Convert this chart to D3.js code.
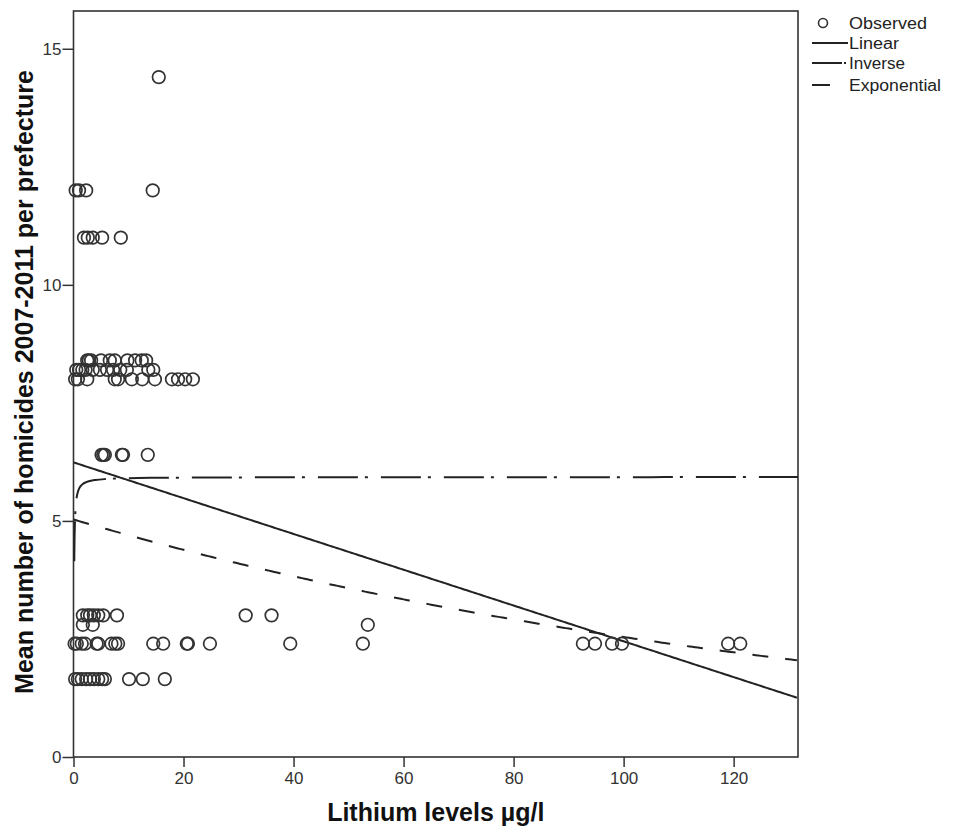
<!DOCTYPE html>
<html>
<head>
<meta charset="utf-8">
<script src="https://cdn.jsdelivr.net/npm/d3@7"></script>
<style>
  body { margin: 0; background: #fff; }
  text { font-family: "Liberation Sans", Arial, sans-serif; }
  .tick text { font-size: 17px; fill: #333; }
  .tick line, .domain { stroke: #333; stroke-width: 1.5; }
</style>
</head>
<body>
<script>
// observed points, grouped by their homicide level (y)
var obsLevels = [14.4, 12, 12, 12, 12, 11, 11, 11, 11, 11];
var obsLithium = [15.5, 0.4, 1.0, 2.3, 14.4, 1.9, 2.6, 3.5, 5.2, 8.6];

var lvl84 = [2.5, 2.8, 3.2, 5.0, 6.6, 7.5, 9.8, 11.2, 12.4, 13.2];
var lvl82 = [0.5, 1.0, 1.6, 2.2, 3.5, 4.8, 6.1, 7.2, 8.5, 9.7, 13.6, 14.5];
var lvl80 = [0.3, 0.8, 2.5, 7.5, 8.1, 10.6, 12.5, 14.8, 17.9, 19.0, 20.3, 21.7];
var lvl64 = [5.1, 5.4, 5.7, 8.8, 9.0, 13.5];
var lvl30 = [1.7, 2.5, 3.0, 3.7, 4.5, 5.4, 7.9, 31.3, 36.0];
var lvl28 = [1.7, 3.5, 53.5];
var lvl24 = [0.2, 0.6, 1.5, 2.1, 4.2, 4.5, 6.9, 7.6, 8.1, 14.5, 16.3, 20.6, 20.8, 24.8, 39.4, 52.6, 92.6, 94.8, 97.9, 99.7, 119.0, 121.2];
var lvl16 = [0.3, 0.8, 1.5, 2.3, 3.0, 3.7, 4.5, 5.2, 5.7, 10.1, 12.6, 16.6];

// fitted curve coefficients
var linearFit = [6.24, -0.0379];     // b0 + b1*x
var inverseFit = [5.93, -0.25];      // b0 + b1/x
var expFit = [5.03, -0.00683];       // b0 * exp(b1*x)

var xTicks = [0, 20, 40, 60, 80, 100, 120];
var yTicks = [0, 5, 10, 15];
var legendLabels = ["Observed", "Linear", "Inverse", "Exponential"];

var points = [];
obsLevels.forEach(function (v, i) { points.push({ x: obsLithium[i], y: v }); });
[[8.4, lvl84], [8.2, lvl82], [8.0, lvl80], [6.4, lvl64], [3.0, lvl30],
 [2.8, lvl28], [2.4, lvl24], [1.65, lvl16]].forEach(function (g) {
  g[1].forEach(function (x) { points.push({ x: x, y: g[0] }); });
});

var svgWidth = 954;
var svgHeight = 828;
var margin = { top: 11, right: 156, bottom: 71, left: 73.5 };
var width = svgWidth - margin.left - margin.right;
var height = svgHeight - margin.top - margin.bottom;

var svg = d3.select("body")
  .append("svg")
  .attr("width", svgWidth)
  .attr("height", svgHeight);

var chartGroup = svg.append("g")
  .attr("transform", `translate(${margin.left}, ${margin.top})`);

var xScale = d3.scaleLinear().domain([0, 131.7]).range([0, width]);
var yScale = d3.scaleLinear().domain([0, 15.8]).range([height, 0]);

// frame
chartGroup.append("rect")
  .attr("width", width)
  .attr("height", height)
  .attr("fill", "none")
  .attr("stroke", "#333")
  .attr("stroke-width", 1.6);

chartGroup.append("g")
  .attr("transform", `translate(0,${height})`)
  .call(d3.axisBottom(xScale).tickValues(xTicks).tickSize(10).tickSizeOuter(0).tickPadding(5))
  .call(function (g) { g.select(".domain").remove(); });

chartGroup.append("g")
  .call(d3.axisLeft(yScale).tickValues(yTicks).tickSize(11).tickSizeOuter(0).tickPadding(1))
  .call(function (g) { g.select(".domain").remove(); });

// fitted lines
var xs = d3.range(0, 131.71, 0.5);
var line = d3.line()
  .x(function (d) { return xScale(d[0]); })
  .y(function (d) { return yScale(d[1]); });

chartGroup.append("path")
  .datum(xs.map(function (x) { return [x, linearFit[0] + linearFit[1] * x]; }))
  .attr("d", line)
  .attr("fill", "none")
  .attr("stroke", "#222")
  .attr("stroke-width", 2);

var invXs = [0.14, 0.16, 0.18, 0.2, 0.23, 0.26, 0.3, 0.35, 0.4, 0.5, 0.6, 0.8, 1, 1.3, 1.7, 2.2, 3, 4, 6, 10].concat(d3.range(15, 131.71, 5)).concat([131.7]);
chartGroup.append("path")
  .datum(invXs.map(function (x) { return [x, inverseFit[0] + inverseFit[1] / x]; }))
  .attr("d", line.curve(d3.curveMonotoneX))
  .attr("fill", "none")
  .attr("stroke", "#222")
  .attr("stroke-width", 2)
  .attr("stroke-dasharray", "40,7,3,13");

chartGroup.append("path")
  .datum(xs.map(function (x) { return [x, expFit[0] * Math.exp(expFit[1] * x)]; }))
  .attr("d", line.curve(d3.curveLinear))
  .attr("fill", "none")
  .attr("stroke", "#222")
  .attr("stroke-width", 2)
  .attr("stroke-dasharray", "16,17");

// observed points
chartGroup.selectAll("circle.obs")
  .data(points)
  .enter()
  .append("circle")
  .attr("class", "obs")
  .attr("cx", function (d) { return xScale(d.x); })
  .attr("cy", function (d) { return yScale(d.y); })
  .attr("r", 6.3)
  .attr("fill", "none")
  .attr("stroke", "#333")
  .attr("stroke-width", 1.7);

// axis titles
svg.append("text")
  .attr("x", margin.left + width / 2)
  .attr("y", 821)
  .attr("text-anchor", "middle")
  .attr("font-size", "25px")
  .attr("font-weight", "bold")
  .attr("fill", "#111")
  .text("Lithium levels µg/l");

svg.append("text")
  .attr("transform", `translate(33,${margin.top + height / 2 - 2})rotate(-90)`)
  .attr("text-anchor", "middle")
  .attr("font-size", "25px")
  .attr("font-weight", "bold")
  .attr("fill", "#111")
  .text("Mean number of homicides 2007-2011 per prefecture");

// legend
var legend = svg.append("g").attr("transform", "translate(812,0)");
legendLabels.forEach(function (lab, i) {
  var y = [23, 43, 63, 85][i];
  if (i === 0) {
    legend.append("circle").attr("cx", 11).attr("cy", y).attr("r", 4.5)
      .attr("fill", "none").attr("stroke", "#333").attr("stroke-width", 1.6);
  } else {
    var dash = i === 1 ? null : (i === 2 ? "30,2,2,20" : "18,40");
    legend.append("line").attr("x1", 0).attr("x2", i === 1 ? 36 : 34).attr("y1", y).attr("y2", y)
      .attr("stroke", "#222").attr("stroke-width", 2)
      .attr("stroke-dasharray", dash);
  }
  legend.append("text").attr("x", 37).attr("y", y + 6)
    .attr("font-size", "16px").attr("fill", "#222")
    .attr("textLength", [78, 50, 56, 92][i])
    .attr("lengthAdjust", "spacingAndGlyphs")
    .text(lab);
});
</script>
</body>
</html>
